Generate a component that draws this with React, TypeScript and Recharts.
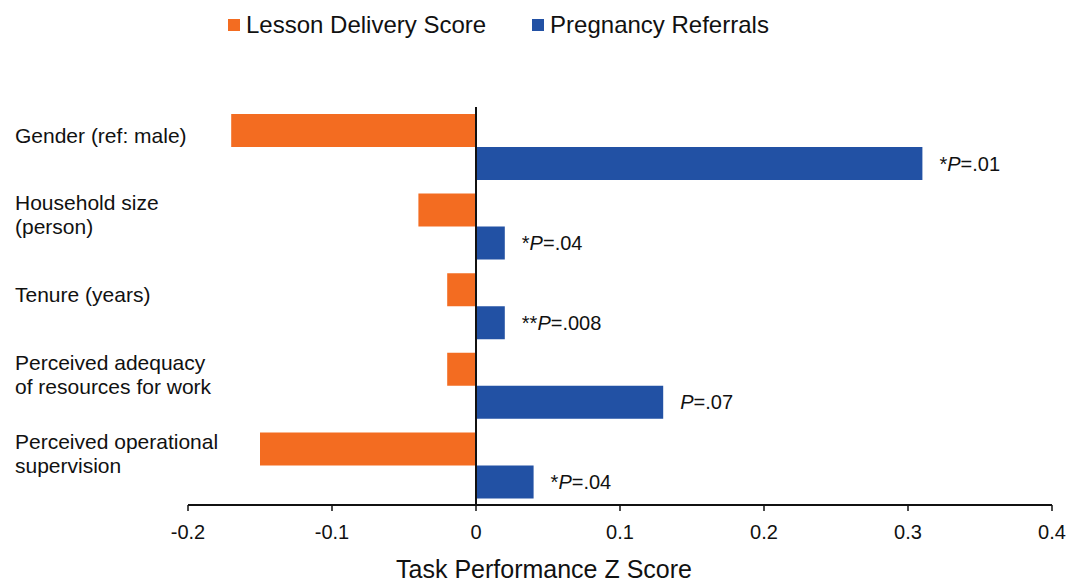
import React from "react";
import { BarChart, Bar, XAxis, YAxis, ReferenceLine, LabelList } from "recharts";

const categories: string[] = [
  "Gender (ref: male)",
  "Household size\n(person)",
  "Tenure (years)",
  "Perceived adequacy\nof resources for work",
  "Perceived operational\nsupervision",
];
const lessonDelivery: number[] = [-0.17, -0.04, -0.02, -0.02, -0.15];
const pregnancyReferrals: number[] = [0.31, 0.02, 0.02, 0.13, 0.04];
const stars: string[] = ["*", "*", "**", "", "*"];
const pValues: string[] = [".01", ".04", ".008", ".07", ".04"];
const xTicks: number[] = [-0.2, -0.1, 0, 0.1, 0.2, 0.3, 0.4];
const xTickLabels: string[] = ["-0.2", "-0.1", "0", "0.1", "0.2", "0.3", "0.4"];

const seriesNames = ["Lesson Delivery Score", "Pregnancy Referrals"];
const ORANGE = "#F36C21";
const BLUE = "#2251A4";
const FONT = "'Liberation Sans', Arial, sans-serif";

const data = categories.map((name, i) => ({
  name,
  lesson: lessonDelivery[i],
  referrals: pregnancyReferrals[i],
  sig: i,
}));

const CategoryTick = (props: any) => {
  const { y, payload } = props;
  const lines: string[] = String(payload.value).split("\n");
  const lh = 24;
  const center = y - 12;
  const first = center - ((lines.length - 1) * lh) / 2;
  return (
    <text x={15} y={first} fontSize={21} fontFamily={FONT} fill="#111" textAnchor="start" dominantBaseline="central">
      {lines.map((l, i) => (
        <tspan key={i} x={15} y={first + i * lh}>
          {l}
        </tspan>
      ))}
    </text>
  );
};

const XTick = (props: any) => {
  const { x, y, payload } = props;
  const idx = xTicks.indexOf(payload.value);
  return (
    <text x={x} y={y} dy={22} fontSize={20} fontFamily={FONT} fill="#111" textAnchor="middle">
      {idx >= 0 ? xTickLabels[idx] : payload.value}
    </text>
  );
};

const SigLabel = (props: any) => {
  const { x, y, width, height, index } = props;
  const tx = Number(x) + Number(width) + 17;
  const ty = Number(y) + Number(height) / 2;
  return (
    <text x={tx} y={ty} fontSize={20} fontFamily={FONT} fill="#111" dominantBaseline="central">
      {stars[index] ? <tspan>{stars[index]}</tspan> : null}
      <tspan fontStyle="italic">P</tspan>
      <tspan>={pValues[index]}</tspan>
    </text>
  );
};

const AxisTitle = () => (
  <text x={544} y={578} fontSize={25} fontFamily={FONT} fill="#111" textAnchor="middle">
    Task Performance Z Score
  </text>
);

export default function App() {
  return (
    <div style={{ position: "absolute", left: 0, top: 0, width: 1069, height: 586, background: "#fff" }}>
      <BarChart
        width={1069}
        height={586}
        data={data}
        layout="vertical"
        margin={{ top: 107, right: 17, bottom: 0, left: 0 }}
        barGap={0}
      >
        <XAxis
          type="number"
          domain={[-0.2, 0.4]}
          ticks={xTicks}
          allowDataOverflow
          axisLine={{ stroke: "#111", strokeWidth: 2 }}
          tickLine={{ stroke: "#111", strokeWidth: 1.5 }}
          tickSize={6}
          tickMargin={6}
          tick={<XTick />}
          height={81}
          interval={0}
          label={<AxisTitle />}
        />
        <YAxis
          type="category"
          dataKey="name"
          width={188}
          axisLine={false}
          tickLine={false}
          tick={<CategoryTick />}
          interval={0}
        />
        <Bar dataKey="lesson" name={seriesNames[0]} fill={ORANGE} barSize={33} isAnimationActive={false} />
        <Bar dataKey="referrals" name={seriesNames[1]} fill={BLUE} barSize={33} isAnimationActive={false}>
          <LabelList dataKey="sig" content={<SigLabel />} />
        </Bar>
        <ReferenceLine x={0} stroke="#111" strokeWidth={2} ifOverflow="extendDomain" />
      </BarChart>
      <div
        style={{
          position: "absolute",
          top: 13,
          left: 228,
          display: "flex",
          alignItems: "center",
          fontFamily: FONT,
          fontSize: 24,
          color: "#111",
          whiteSpace: "nowrap",
          lineHeight: "24px",
        }}
      >
        <span style={{ display: "inline-block", width: 12, height: 12, background: ORANGE, marginRight: 6 }} />
        <span>{seriesNames[0]}</span>
        <span style={{ display: "inline-block", width: 12, height: 12, background: BLUE, marginLeft: 46, marginRight: 6 }} />
        <span>{seriesNames[1]}</span>
      </div>
    </div>
  );
}
